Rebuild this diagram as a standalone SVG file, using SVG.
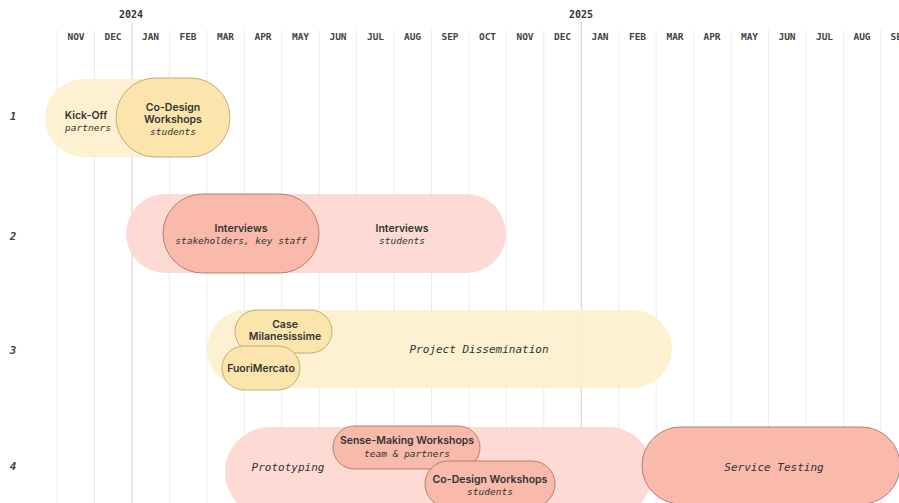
<svg xmlns="http://www.w3.org/2000/svg" width="899" height="503" viewBox="0 0 899 503">
<style>
.grid{stroke:#ececec;stroke-width:1}
.year{stroke:#d8d8d8;stroke-width:1.2}
.mon{font-family:"DejaVu Sans Mono",monospace;font-weight:bold;font-size:9.5px;fill:#444;text-anchor:middle}
.yr{font-family:"DejaVu Sans Mono",monospace;font-weight:bold;font-size:10px;fill:#333;text-anchor:middle}
.row{font-family:"DejaVu Sans Mono",monospace;font-weight:bold;font-style:italic;font-size:11px;fill:#444;text-anchor:middle}
.t{font-family:Inter,"Liberation Sans",sans-serif;font-weight:600;font-size:10.5px;fill:#333;text-anchor:middle}
.s{font-family:"DejaVu Sans Mono",monospace;font-style:italic;font-size:9.5px;fill:#333;text-anchor:middle}
.big{font-family:"DejaVu Sans Mono",monospace;font-style:italic;font-size:11px;fill:#333;text-anchor:middle}
.ly{fill:#fdf0cc;opacity:0.9}
.dy{fill:#fbe5ad;stroke:#c2ac78;stroke-width:1}
.lp{fill:#fdd7cf;opacity:0.9}
.dp{fill:#f9b9ab;stroke:#b57f70;stroke-width:1}
</style>
<rect width="899" height="503" fill="#ffffff"/>
<g id="grid">
<line class="grid" x1="57" y1="30" x2="57" y2="503"/>
<line class="grid" x1="94.5" y1="30" x2="94.5" y2="503"/>
<line class="year" x1="132" y1="22" x2="132" y2="503"/>
<line class="grid" x1="169.4" y1="30" x2="169.4" y2="503"/>
<line class="grid" x1="206.8" y1="30" x2="206.8" y2="503"/>
<line class="grid" x1="244.3" y1="30" x2="244.3" y2="503"/>
<line class="grid" x1="281.7" y1="30" x2="281.7" y2="503"/>
<line class="grid" x1="319.2" y1="30" x2="319.2" y2="503"/>
<line class="grid" x1="356.6" y1="30" x2="356.6" y2="503"/>
<line class="grid" x1="394" y1="30" x2="394" y2="503"/>
<line class="grid" x1="431.5" y1="30" x2="431.5" y2="503"/>
<line class="grid" x1="469" y1="30" x2="469" y2="503"/>
<line class="grid" x1="506.4" y1="30" x2="506.4" y2="503"/>
<line class="grid" x1="543.8" y1="30" x2="543.8" y2="503"/>
<line class="year" x1="581.3" y1="22" x2="581.3" y2="503"/>
<line class="grid" x1="618.7" y1="30" x2="618.7" y2="503"/>
<line class="grid" x1="656.2" y1="30" x2="656.2" y2="503"/>
<line class="grid" x1="693.6" y1="30" x2="693.6" y2="503"/>
<line class="grid" x1="731" y1="30" x2="731" y2="503"/>
<line class="grid" x1="768.5" y1="30" x2="768.5" y2="503"/>
<line class="grid" x1="806" y1="30" x2="806" y2="503"/>
<line class="grid" x1="843.4" y1="30" x2="843.4" y2="503"/>
<line class="grid" x1="880.8" y1="30" x2="880.8" y2="503"/>
</g>
<g id="header">
<text class="yr" x="131" y="18">2024</text>
<text class="yr" x="581" y="18">2025</text>
<text class="mon" x="76" y="40">NOV</text>
<text class="mon" x="113" y="40">DEC</text>
<text class="mon" x="150.5" y="40">JAN</text>
<text class="mon" x="188" y="40">FEB</text>
<text class="mon" x="225.5" y="40">MAR</text>
<text class="mon" x="263" y="40">APR</text>
<text class="mon" x="300.5" y="40">MAY</text>
<text class="mon" x="338" y="40">JUN</text>
<text class="mon" x="375.5" y="40">JUL</text>
<text class="mon" x="412.5" y="40">AUG</text>
<text class="mon" x="450" y="40">SEP</text>
<text class="mon" x="487.5" y="40">OCT</text>
<text class="mon" x="525" y="40">NOV</text>
<text class="mon" x="562.5" y="40">DEC</text>
<text class="mon" x="600" y="40">JAN</text>
<text class="mon" x="637.5" y="40">FEB</text>
<text class="mon" x="675" y="40">MAR</text>
<text class="mon" x="712" y="40">APR</text>
<text class="mon" x="749.5" y="40">MAY</text>
<text class="mon" x="787" y="40">JUN</text>
<text class="mon" x="824.5" y="40">JUL</text>
<text class="mon" x="862" y="40">AUG</text>
<text class="mon" x="899" y="40">SEP</text>
<text class="row" x="13" y="120">1</text>
<text class="row" x="13" y="240">2</text>
<text class="row" x="13" y="354">3</text>
<text class="row" x="13" y="470">4</text>
</g>
<g id="kickoff">
<rect class="ly" x="45" y="79" width="160" height="78" rx="39"/>
<text class="t" x="86" y="119">Kick-Off</text>
<text class="s" x="88" y="131">partners</text>
</g>
<g id="codesign1">
<rect class="dy" x="116" y="78" width="114" height="79" rx="39.5"/>
<text class="t" x="173" y="111">Co-Design</text>
<text class="t" x="173" y="123">Workshops</text>
<text class="s" x="173" y="135">students</text>
</g>
<g id="interviews-students">
<rect class="lp" x="126" y="194" width="380" height="79" rx="39.5"/>
<text class="t" x="402" y="232">Interviews</text>
<text class="s" x="402" y="244">students</text>
</g>
<g id="interviews-staff">
<rect class="dp" x="163" y="194" width="156" height="79" rx="39.5"/>
<text class="t" x="241" y="232">Interviews</text>
<text class="s" x="241" y="244">stakeholders, key staff</text>
</g>
<g id="dissemination">
<rect class="ly" x="207" y="310" width="465" height="78" rx="39"/>
<text class="big" x="479" y="353">Project Dissemination</text>
</g>
<g id="case-milanesissime">
<rect class="dy" x="235" y="310" width="97" height="43" rx="21.5"/>
<text class="t" x="285" y="328">Case</text>
<text class="t" x="285" y="340">Milanesissime</text>
</g>
<g id="fuorimercato">
<rect class="dy" x="222" y="346" width="78" height="44" rx="22"/>
<text class="t" x="261" y="372">FuoriMercato</text>
</g>
<g id="prototyping">
<rect class="lp" x="225" y="427" width="428" height="90" rx="45"/>
<text class="big" x="288" y="471">Prototyping</text>
</g>
<g id="sense-making">
<rect class="dp" x="333" y="426" width="147" height="43" rx="21.5"/>
<text class="t" x="407" y="444">Sense-Making Workshops</text>
<text class="s" x="407" y="457">team &amp; partners</text>
</g>
<g id="codesign2">
<rect class="dp" x="425" y="461" width="130" height="46" rx="23"/>
<text class="t" x="490" y="483">Co-Design Workshops</text>
<text class="s" x="490" y="495">students</text>
</g>
<g id="service-testing">
<rect class="dp" x="642" y="427" width="258" height="77" rx="38.5"/>
<text class="big" x="774" y="471">Service Testing</text>
</g>
<g id="connectors"></g>
</svg>
